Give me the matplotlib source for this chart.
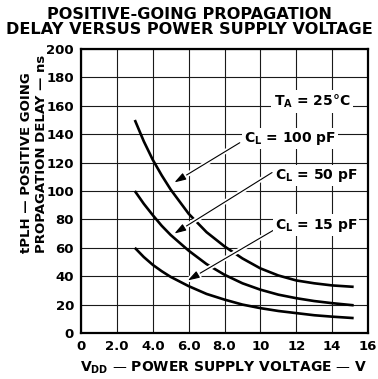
import matplotlib
matplotlib.use("Agg")
import matplotlib.pyplot as plt
import matplotlib.patheffects as pe

plt.rcParams['font.family'] = ['DejaVu Sans']
plt.rcParams['font.weight'] = 'bold'
plt.rcParams['mathtext.fontset'] = 'dejavusans'
plt.rcParams['mathtext.default'] = 'bf'

# supply voltage (V) and propagation delay (ns) for each load capacitance
vdd = [3.0, 3.5, 4.0, 4.5, 5.0, 6.0, 7.0, 8.0, 9.0, 10.0, 11.0, 12.0, 13.0, 14.0, 15.2]
delay_100pf = [150, 135, 122, 111, 101, 84, 71, 61, 52.5, 45.5, 40.5, 37, 35, 33.5, 32.5]
delay_50pf = [100, 91, 83, 75.5, 69, 58, 48.5, 41, 35, 30.5, 27, 24.5, 22.5, 21, 19.5]
delay_15pf = [60, 53.5, 48, 43.5, 39.5, 33, 27.5, 23.5, 20, 17.5, 15.5, 14, 12.5, 11.5, 10.5]

x_ticks = [0, 2, 4, 6, 8, 10, 12, 14, 16]
x_tick_labels = ["0", "2.0", "4.0", "6.0", "8.0", "10", "12", "14", "16"]
y_ticks = [0, 20, 40, 60, 80, 100, 120, 140, 160, 180, 200]

# label text, label position, arrow tip
curve_labels = [
    (r"C$_L$ = 100 pF", (11.65, 137), (5.2, 106)),
    (r"C$_L$ = 50 pF", (13.1, 111), (5.2, 70)),
    (r"C$_L$ = 15 pF", (13.1, 76), (5.95, 37)),
]
arrow_tails = [(8.85, 134), (10.65, 113), (10.95, 74)]

fig = plt.figure(figsize=(3.78, 3.79), dpi=100)
ax = fig.add_axes([0.2143, 0.1214, 0.7593, 0.7493])

for ys in (delay_100pf, delay_50pf, delay_15pf):
    ax.plot(vdd, ys, color='black', lw=1.9, solid_capstyle='butt', zorder=3)

ax.set_xlim(0, 16)
ax.set_ylim(0, 200)
ax.set_xticks(x_ticks)
ax.set_xticklabels(x_tick_labels)
ax.set_yticks(y_ticks)
ax.tick_params(length=0, labelsize=9.5, pad=5)
ax.grid(True, color='#1a1a1a', lw=0.8)
for s in ax.spines.values():
    s.set_linewidth(1.6)

halo = [pe.Stroke(linewidth=3.5, foreground='white'), pe.Normal()]
for (text, pos, tip), tail in zip(curve_labels, arrow_tails):
    ax.annotate("", xy=tip, xytext=tail,
                arrowprops=dict(arrowstyle='-|>,head_length=0.7,head_width=0.22',
                                color='black', lw=0.8, shrinkA=0, shrinkB=0,
                                path_effects=halo),
                zorder=4)
    ax.text(pos[0], pos[1], text, fontsize=10, ha='center', va='center', zorder=5,
            bbox=dict(facecolor='white', edgecolor='none', pad=1.5))

ax.text(12.9, 163, r"T$_A$ = 25°C", fontsize=10, ha='center', va='center', zorder=5,
        bbox=dict(facecolor='white', edgecolor='none', pad=2))

fig.text(0.5, 1 - 22 / 379, "POSITIVE-GOING PROPAGATION\nDELAY VERSUS POWER SUPPLY VOLTAGE",
         ha='center', va='center', fontsize=11.6, linespacing=0.92)
fig.text(48 / 378, 1 - 253 / 379, "tPLH — POSITIVE GOING\nPROPAGATION DELAY — ns",
         rotation=90, ha='right', va='bottom', fontsize=9.5, multialignment='left',
         linespacing=1.2)
fig.text(224 / 378, 1 - 368 / 379, r"V$_{DD}$ — POWER SUPPLY VOLTAGE — V",
         ha='center', va='center', fontsize=10)

fig.savefig("out.png", dpi=100)
